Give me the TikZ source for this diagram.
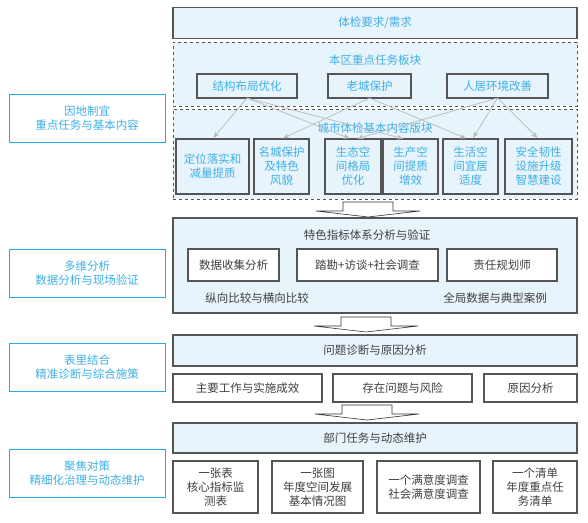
\documentclass[tikz,border=0pt]{standalone}
\usepackage{fontspec}
\setmainfont{Noto Sans CJK SC}
\usetikzlibrary{arrows.meta, positioning}
\definecolor{cFill}{RGB}{232,244,252}
\definecolor{cText}{RGB}{62,176,230}
\definecolor{cEdge}{RGB}{85,85,85}
\definecolor{cSide}{RGB}{40,168,226}
\definecolor{cLink}{RGB}{185,185,185}
\tikzset{
	band/.style ={rectangle, draw=cEdge, line width=1.2pt, fill=cFill, inner sep=0pt, outer sep=0pt, align=center, text=black!75},
	zone/.style ={rectangle, draw=cEdge, dashed, line width=0.9pt, fill=cFill, inner sep=0pt, outer sep=0pt},
	cell/.style ={rectangle, draw=cEdge, line width=1.1pt, fill=cFill, text=cText, inner sep=0pt, outer sep=0pt, align=center},
	plain/.style={rectangle, draw=cEdge, line width=1.1pt, fill=white, text=black!75, inner sep=0pt, outer sep=0pt, align=center},
	side/.style ={rectangle, draw=cSide, line width=1pt, fill=white, text=cText, minimum width=156pt, minimum height=48pt, inner sep=0pt, align=center},
	link/.style ={-{Stealth[length=2.2mm, width=1.8mm]}, cLink, line width=0.7pt, shorten >=1.5pt},
	bigarrow/.style={draw=black!80, fill=white, line width=0.6pt},
}
% hollow block arrow: centre x, top y
\newcommand{\blockarrow}[2]{\draw[bigarrow] (#1-25,#2) -- (#1-25,#2+9) -- (#1-52,#2+9) -- (#1,#2+15) -- (#1+52,#2+9) -- (#1+25,#2+9) -- (#1+25,#2) -- cycle;}

\begin{document}
\begin{tikzpicture}[x=1pt, y=-1pt, font=\fontsize{11.5pt}{14pt}\selectfont]
	\useasboundingbox (0,0) rectangle (588,522);
	% left column
	\node[side] (s1) at (87,118.5) {因地制宜\\重点任务与基本内容};
	\node[side] (s2) at (87,273.5) {多维分析\\数据分析与现场验证};
	\node[side] (s3) at (87,367) {表里结合\\精准诊断与综合施策};
	\node[side] (s4) at (87,473.5) {聚焦对策\\精细化治理与动态维护};
	% requirement band
	\node[band, text=cText, minimum width=404pt, minimum height=31pt] (req) at (375,23) {体检要求/需求};
	% district task zone
	\node[zone, minimum width=404pt, minimum height=64pt] (zoneA) at (375,74) {};
	\node[text=cText] (zoneAlbl) at (375,60) {本区重点任务板块};
	\node[cell, minimum width=100pt, minimum height=24pt] (jg) at (247,86) {结构布局优化};
	\node[cell, minimum width=83pt, minimum height=24pt] (lc) at (369.5,86) {老城保护};
	\node[cell, minimum width=101pt, minimum height=24pt] (rj) at (497.5,86) {人居环境改善};
	% basic content zone
	\node[zone, minimum width=404pt, minimum height=90pt] (zoneB) at (375,154) {};
	\node[text=cText] (zoneBlbl) at (375,128) {城市体检基本内容版块};
	\node[cell, minimum width=73pt, minimum height=55pt] (dw) at (212.5,166.5) {定位落实和\\减量提质};
	\node[cell, minimum width=55pt, minimum height=55pt] (mc) at (281.5,166.5) {名城保护\\及特色\\风貌};
	\node[cell, minimum width=56pt, minimum height=55pt] (st) at (353,166.5) {生态空\\间格局\\优化};
	\node[cell, minimum width=55pt, minimum height=55pt] (sc) at (410.5,166.5) {生产空\\间提质\\增效};
	\node[cell, minimum width=55pt, minimum height=55pt] (sh) at (470.5,166.5) {生活空\\间宜居\\适度};
	\node[cell, minimum width=67pt, minimum height=55pt] (aq) at (538.5,166.5) {安全韧性\\设施升级\\智慧建设};
	\draw[link] (jg.south) -- (dw.north);
	\draw[link] (jg.south) -- ([xshift=-2pt]st.north);
	\draw[link] (jg.south) -- ([xshift=-6pt]sc.north);
	\draw[link] (lc.south) -- (mc.north);
	\draw[link] (lc.south) -- ([xshift=-3pt]sh.north);
	\draw[link] (rj.south) -- ([xshift=3pt]st.north);
	\draw[link] (rj.south) -- ([xshift=2pt]sh.north);
	\draw[link] (rj.south) -- (aq.north);
	\blockarrow{368}{202}
	% indicator analysis
	\node[band, minimum width=404pt, minimum height=95pt] (idx) at (375,265.5) {};
	\node[text=black!75] (idxlbl) at (367,235) {特色指标体系分析与验证};
	\node[plain, minimum width=91pt, minimum height=32pt] (sj) at (233.5,265) {数据收集分析};
	\node[plain, minimum width=141pt, minimum height=32pt] (tk) at (367.5,265) {踏勘+访谈+社会调查};
	\node[plain, minimum width=110pt, minimum height=32pt] (zr) at (502,265) {责任规划师};
	\node[text=black!75] (zx) at (257,298.5) {纵向比较与横向比较};
	\node[text=black!75] (qj) at (495,298.5) {全局数据与典型案例};
	\blockarrow{366}{317}
	% diagnosis
	\node[band, minimum width=404pt, minimum height=31pt] (zd) at (375,350.5) {问题诊断与原因分析};
	\node[plain, minimum width=149pt, minimum height=28pt] (gz) at (247.5,388) {主要工作与实施成效};
	\node[plain, minimum width=139pt, minimum height=28pt] (wt) at (402.5,388) {存在问题与风险};
	\node[plain, minimum width=93pt, minimum height=28pt] (yy) at (530.5,388) {原因分析};
	\blockarrow{367}{405}
	% department tasks
	\node[band, minimum width=404pt, minimum height=30pt] (bm) at (375,438) {部门任务与动态维护};
	\node[plain, minimum width=85pt, minimum height=52pt] (b1) at (215.5,487) {一张表\\核心指标监\\测表};
	\node[plain, minimum width=91pt, minimum height=52pt] (b2) at (317.5,487) {一张图\\年度空间发展\\基本情况图};
	\node[plain, minimum width=103pt, minimum height=52pt] (b3) at (428.5,487) {一个满意度调查\\社会满意度调查};
	\node[plain, minimum width=84pt, minimum height=52pt] (b4) at (535,487) {一个清单\\年度重点任\\务清单};
\end{tikzpicture}
\end{document}
